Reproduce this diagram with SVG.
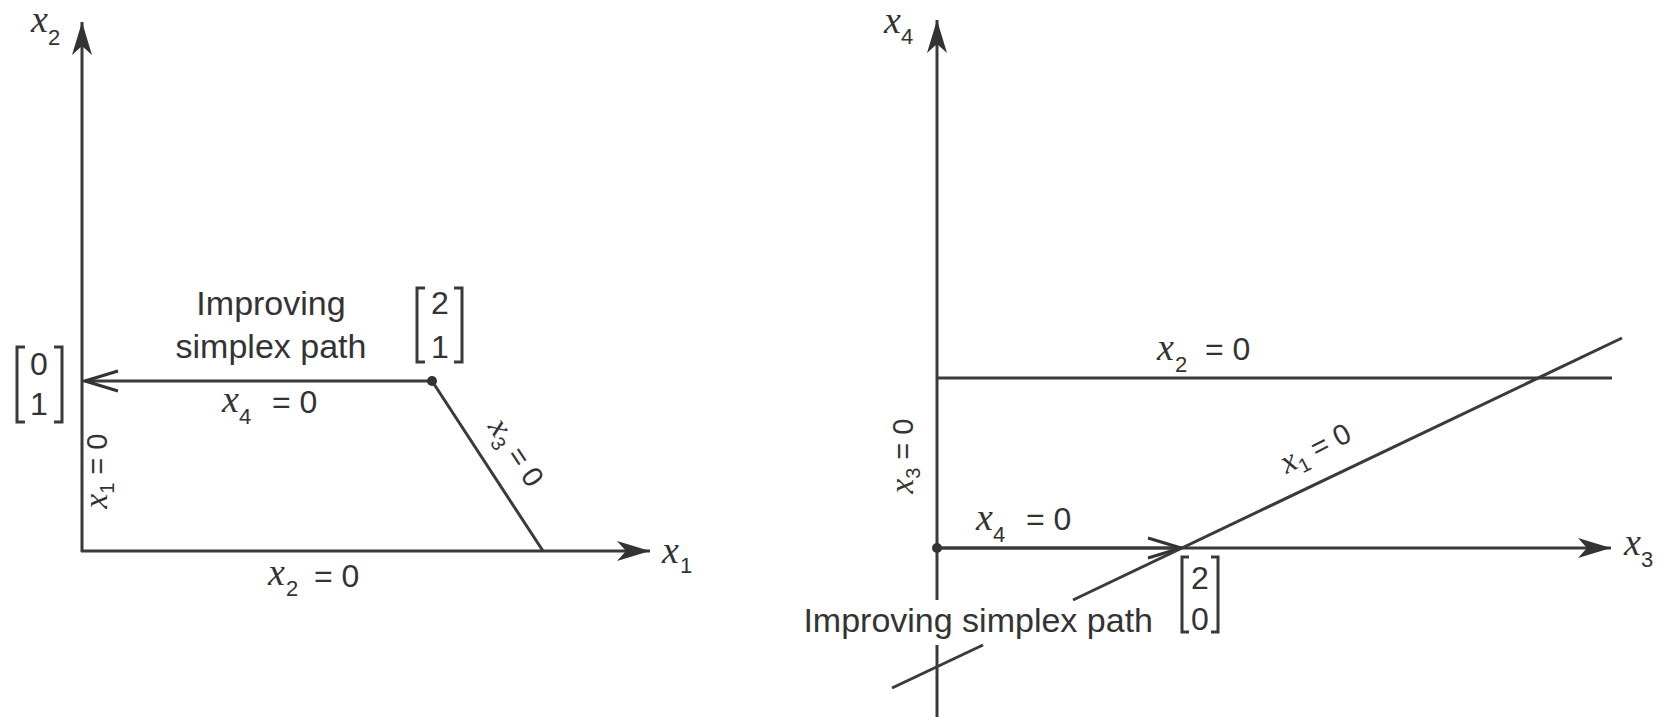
<svg xmlns="http://www.w3.org/2000/svg" width="1663" height="717" viewBox="0 0 1663 717">
<style>
.ln{stroke:#3a3a3a;stroke-width:3;fill:none}
.v{font-family:"Liberation Serif",serif;font-style:italic;font-size:38px;fill:#333}
.s{font-family:"Liberation Sans",sans-serif;font-size:22px;fill:#333}
.n{font-family:"Liberation Sans",sans-serif;font-size:32px;fill:#333}
.t{font-family:"Liberation Sans",sans-serif;font-size:34px;fill:#333}
.r .v{font-size:33px}
.r .n{font-size:29px}
.r .s{font-size:20px}
</style>
<defs>
<marker id="stealth" markerUnits="userSpaceOnUse" viewBox="-35 -12 37 24" refX="0" refY="0" markerWidth="37" markerHeight="24" orient="auto">
<path d="M0,0 L-33,-10 L-24,0 L-33,10 Z" fill="#333"/>
</marker>
<marker id="chev" markerUnits="userSpaceOnUse" viewBox="-36 -13 39 26" refX="0" refY="0" markerWidth="39" markerHeight="26" orient="auto">
<path d="M-33,-10 L0,0 L-33,10" fill="none" stroke="#333" stroke-width="3"/>
</marker>
</defs>
<rect width="1663" height="717" fill="#fff"/>
<g id="connectors">
<line class="ln" x1="82" y1="552" x2="82" y2="22" marker-end="url(#stealth)"/>
<line class="ln" x1="81" y1="551" x2="650" y2="551" marker-end="url(#stealth)"/>
<line class="ln" x1="432" y1="381" x2="85" y2="381" marker-end="url(#chev)"/>
<line class="ln" x1="432" y1="381" x2="543" y2="551"/>
<line class="ln" x1="937" y1="600" x2="937" y2="20" marker-end="url(#stealth)"/>
<line class="ln" x1="937" y1="645" x2="937" y2="717"/>
<line class="ln" x1="937" y1="548" x2="1611" y2="548" marker-end="url(#stealth)"/>
<line class="ln" x1="937" y1="548" x2="1181" y2="548" marker-end="url(#chev)"/>
<line class="ln" x1="937" y1="378" x2="1612" y2="378"/>
<line class="ln" x1="1073" y1="600" x2="1622" y2="338"/>
<line class="ln" x1="892" y1="688" x2="983" y2="645"/>
</g>
<g id="left-plot-labels">
<text><tspan class="v" x="31" y="32">x</tspan><tspan class="s" x="48" y="45">2</tspan></text>
<text><tspan class="v" x="662" y="563">x</tspan><tspan class="s" x="680" y="573">1</tspan></text>
<text><tspan class="v" x="222" y="412">x</tspan><tspan class="s" x="239" y="424">4</tspan><tspan class="n" x="272" y="413">= 0</tspan></text>
<text><tspan class="v" x="268" y="585">x</tspan><tspan class="s" x="286" y="596">2</tspan><tspan class="n" x="314" y="587">= 0</tspan></text>
<g class="r" transform="translate(107,471) rotate(-90)"><text text-anchor="middle"><tspan class="v">x</tspan><tspan class="s" dy="7">1</tspan><tspan class="n" dy="-7"> = 0</tspan></text></g>
<g class="r" transform="translate(508,458) rotate(56.5)"><text text-anchor="middle"><tspan class="v">x</tspan><tspan class="s" dy="7">3</tspan><tspan class="n" dy="-7"> = 0</tspan></text></g>
</g>
<g id="left-path-label">
<text class="t" x="271" y="315" text-anchor="middle">Improving</text>
<text class="t" x="271" y="358" text-anchor="middle">simplex path</text>
</g>
<g id="point-01">
<path class="ln" d="M25,347 H17 V422 H25 M54,347 H62 V422 H54" stroke-width="2.5"/>
<text class="n" x="39" y="375" text-anchor="middle">0</text>
<text class="n" x="39" y="415" text-anchor="middle">1</text>
</g>
<g id="point-21">
<circle cx="432" cy="381" r="5" fill="#333"/>
<path class="ln" d="M425,288 H417 V362 H425 M454,288 H462 V362 H454" stroke-width="2.5"/>
<text class="n" x="440" y="314" text-anchor="middle">2</text>
<text class="n" x="440" y="358" text-anchor="middle">1</text>
</g>
<g id="right-plot-labels">
<text><tspan class="v" x="884" y="33">x</tspan><tspan class="s" x="901" y="44">4</tspan></text>
<text><tspan class="v" x="1624" y="555">x</tspan><tspan class="s" x="1641" y="567">3</tspan></text>
<text><tspan class="v" x="1157" y="360">x</tspan><tspan class="s" x="1175" y="372">2</tspan><tspan class="n" x="1205" y="360">= 0</tspan></text>
<text><tspan class="v" x="976" y="530">x</tspan><tspan class="s" x="993" y="542">4</tspan><tspan class="n" x="1026" y="530">= 0</tspan></text>
<g class="r" transform="translate(913,456) rotate(-90)"><text text-anchor="middle"><tspan class="v">x</tspan><tspan class="s" dy="7">3</tspan><tspan class="n" dy="-7"> = 0</tspan></text></g>
<g class="r" transform="translate(1320,457) rotate(-27)"><text text-anchor="middle"><tspan class="v">x</tspan><tspan class="s" dy="7">1</tspan><tspan class="n" dy="-7"> = 0</tspan></text></g>
</g>
<g id="right-path-label">
<text class="t" x="1153" y="632" text-anchor="end">Improving simplex path</text>
</g>
<g id="point-00">
<circle cx="937" cy="548" r="5" fill="#333"/>
</g>
<g id="point-20">
<path class="ln" d="M1189,557 H1182 V632 H1189 M1211,557 H1218 V632 H1211" stroke-width="2.5"/>
<text class="n" x="1200" y="589" text-anchor="middle">2</text>
<text class="n" x="1200" y="630" text-anchor="middle">0</text>
</g>
</svg>
